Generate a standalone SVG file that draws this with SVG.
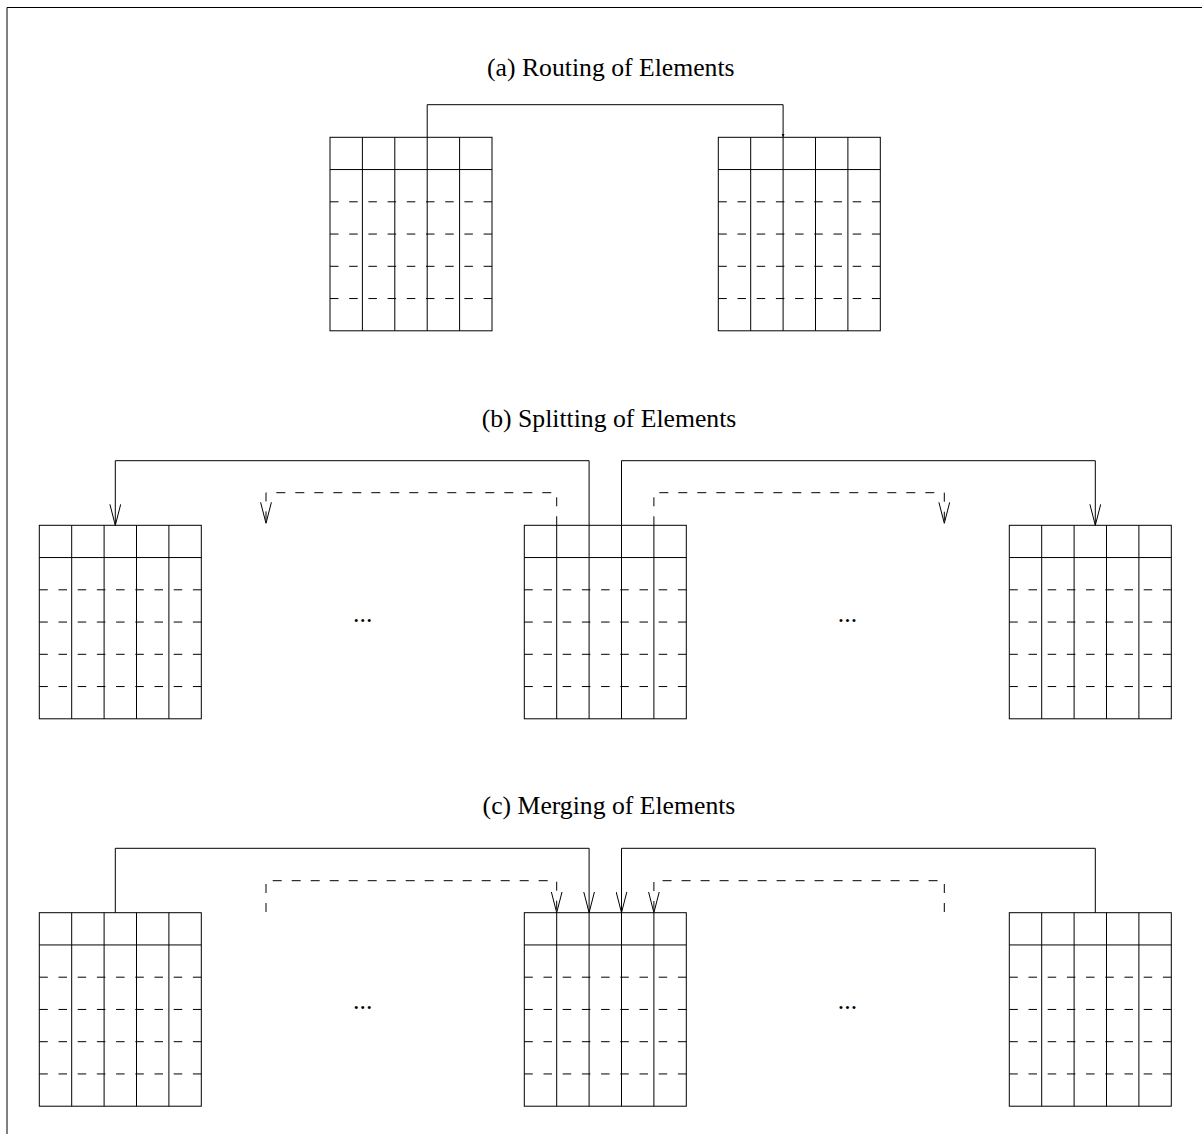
<svg xmlns="http://www.w3.org/2000/svg" xmlns:xlink="http://www.w3.org/1999/xlink" width="1202" height="1134" viewBox="0 0 1202 1134">
<style>
.ln{fill:none;stroke:#000;stroke-width:1}
.dl{fill:none;stroke:#000;stroke-width:1;stroke-dasharray:8.5 10.7}
.cn{fill:none;stroke:#000;stroke-width:1}
.cd{fill:none;stroke:#000;stroke-width:1;stroke-dasharray:9 10}
.t{font-family:"Liberation Serif","Times New Roman",serif;font-size:25.7px;fill:#000;text-anchor:middle}
</style>
<defs>
<marker id="ah" viewBox="0 0 22 12" refX="21" refY="6" markerWidth="22" markerHeight="12" markerUnits="userSpaceOnUse" orient="auto">
<path d="M0,0.6 L21,6 L0,11.4" fill="none" stroke="#000" stroke-width="1"/>
</marker>
<marker id="ahs" viewBox="0 0 4 4" refX="3.5" refY="2" markerWidth="4" markerHeight="4" markerUnits="userSpaceOnUse" orient="auto">
<path d="M0,0.5 L3.5,2 L0,3.5 Z" fill="#000"/>
</marker>
<g id="grid">
<rect class="ln" x="0" y="0" width="162" height="193.5"/>
<path class="ln" d="M32.4,0V193.5M64.8,0V193.5M97.2,0V193.5M129.6,0V193.5M0,32.25H162"/>
<path class="dl" d="M0,64.5H162M0,96.75H162M0,129H162M0,161.25H162"/>
</g>
</defs>
<g id="frame">
<path class="ln" d="M7,1134V7.5H1202" stroke="#000"/>
</g>
<g id="labels">
<text class="t" x="610.8" y="76">(a) Routing of Elements</text>
<text class="t" x="609" y="427">(b) Splitting of Elements</text>
<text class="t" x="609" y="814">(c) Merging of Elements</text>
<text class="t" x="362.7" y="622">...</text>
<text class="t" x="847.5" y="622">...</text>
<text class="t" x="362.7" y="1009">...</text>
<text class="t" x="847.5" y="1009">...</text>
</g>
<g id="a-source"><use xlink:href="#grid" href="#grid" x="330" y="137.3"/></g>
<g id="a-target"><use xlink:href="#grid" href="#grid" x="718.3" y="137.3"/></g>
<g id="b-left"><use xlink:href="#grid" href="#grid" x="39.3" y="525.3"/></g>
<g id="b-source"><use xlink:href="#grid" href="#grid" x="524.3" y="525.3"/></g>
<g id="b-right"><use xlink:href="#grid" href="#grid" x="1009.3" y="525.3"/></g>
<g id="c-left"><use xlink:href="#grid" href="#grid" x="39.3" y="912.7"/></g>
<g id="c-target"><use xlink:href="#grid" href="#grid" x="524.3" y="912.7"/></g>
<g id="c-right"><use xlink:href="#grid" href="#grid" x="1009.3" y="912.7"/></g>
<g id="connectors">
<path class="cn" d="M427.2,137.3V104.7H783.1V137.3" marker-end="url(#ahs)"/>
<path class="cn" d="M589.1,525.3V460.7H115.3V525.3" marker-end="url(#ah)"/>
<path class="cn" d="M621.5,525.3V460.7H1095.3V525.3" marker-end="url(#ah)"/>
<path class="cd" d="M556.7,525.3V492.7H266V523.3" marker-end="url(#ah)"/>
<path class="cd" d="M653.9,525.3V492.7H944.3V523.3" marker-end="url(#ah)"/>
<path class="cn" d="M115.3,912.7V848.3H589.1V912.7" marker-end="url(#ah)"/>
<path class="cn" d="M1095.3,912.7V848.3H621.5V912.7" marker-end="url(#ah)"/>
<path class="cd" d="M266,912V880.7H556.7V912.7" marker-end="url(#ah)"/>
<path class="cd" d="M944.3,912V880.7H653.9V912.7" marker-end="url(#ah)"/>
</g>
</svg>
